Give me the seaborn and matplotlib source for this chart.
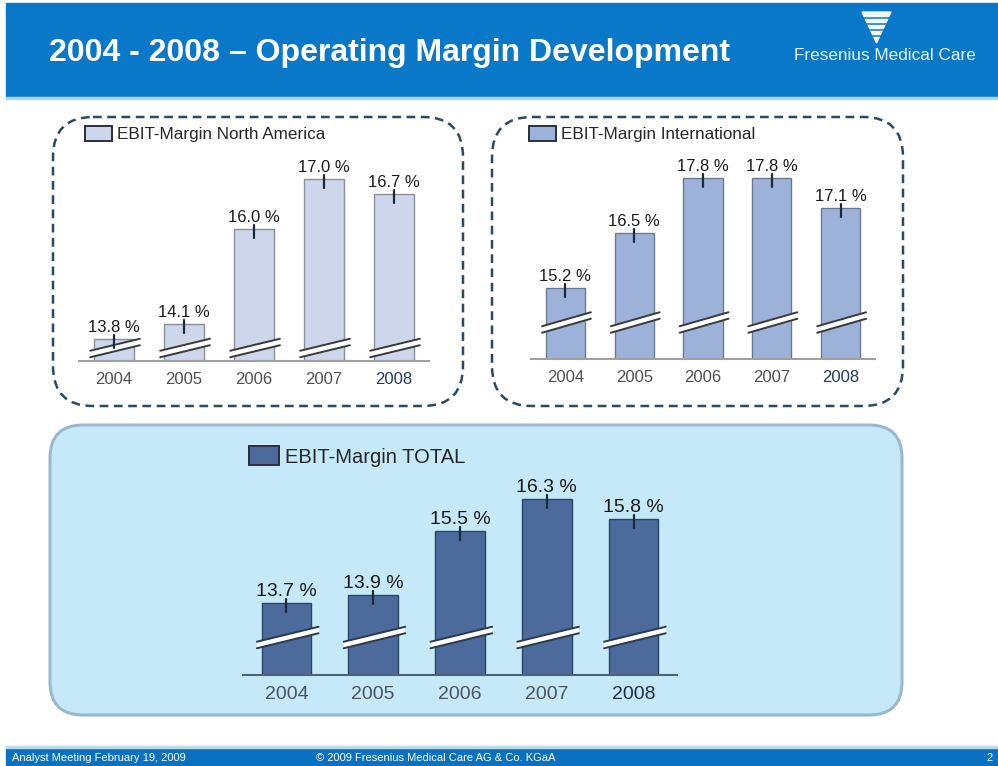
import numpy as np
import pandas as pd
import matplotlib.pyplot as plt
import seaborn as sns
from matplotlib.patches import FancyBboxPatch, Rectangle, Polygon, Patch

# data
years = ["2004", "2005", "2006", "2007", "2008"]
na_margin = [13.8, 14.1, 16.0, 17.0, 16.7]
intl_margin = [15.2, 16.5, 17.8, 17.8, 17.1]
total_margin = [13.7, 13.9, 15.5, 16.3, 15.8]

W, H = 998, 766

sns.set_theme(style="white")
plt.rcParams["font.family"] = ["Liberation Sans", "DejaVu Sans"]

fig = plt.figure(figsize=(W / 100, H / 100), dpi=100)
fig.patch.set_facecolor("white")

# background axes in pixel units for the slide decoration
bg = fig.add_axes([0, 0, 1, 1])
bg.set_xlim(0, W)
bg.set_ylim(H, 0)
bg.axis("off")

# header
bg.add_patch(Rectangle((6, 3), W - 6, 95, color="#0a78c8", zorder=1))
bg.add_patch(Rectangle((6, 97), W - 6, 2, color="#a9d6ee", zorder=1))
bg.text(49, 53, "2004 - 2008 \u2013 Operating Margin Development", color="white",
        fontsize=23, fontweight="bold", va="center", ha="left", zorder=3)
bg.add_patch(Polygon([(862, 12), (891, 12), (876.5, 43)], closed=True,
                     color="#f2f6f8", zorder=2))
for yy in [18, 24, 30, 36]:
    bg.plot([855, 898], [yy, yy], color="#0a78c8", lw=1.1, zorder=3)
bg.text(885, 56, "Fresenius Medical Care", color="#e4f5fb", fontsize=12.3,
        ha="center", va="center", zorder=3)

# footer
bg.add_patch(Rectangle((6, 748), W - 6, 18, color="#0a70c0", zorder=1))
bg.add_patch(Rectangle((6, 746), W - 6, 2, color="#b9dcef", zorder=1))
bg.text(12, 758, "Analyst Meeting February 19, 2009", color="white", fontsize=8, va="center")
bg.text(316, 758, "\u00a9 2009 Fresenius Medical Care AG & Co. KGaA", color="white", fontsize=8, va="center")
bg.text(993, 758, "2", color="white", fontsize=8, va="center", ha="right")

# panel frames
for x0, x1 in [(53, 463), (492, 903)]:
    bg.add_patch(FancyBboxPatch((x0, 117), x1 - x0, 289,
                                boxstyle="round,pad=0,rounding_size=40",
                                fill=False, ec="#2b4a60", lw=1.8,
                                ls=(0, (3.5, 2.2)), zorder=1))
bg.add_patch(FancyBboxPatch((50, 425), 852, 290,
                            boxstyle="round,pad=0,rounding_size=33",
                            fc="#c5e9f9", ec="#9ab8cc", lw=2.2, zorder=1))


def px_axes(left, top, right, bottom):
    return fig.add_axes([left / W, 1 - bottom / H, (right - left) / W, (bottom - top) / H])


panels = [
    dict(vals=na_margin, box=(79, 150, 429, 361), ylim=(13.36, 17.58),
         fc="#cdd6ea", ec="#8a8f99", base="#a0a0a0", label="EBIT-Margin North America",
         fs=12, lfs=12.3, leg=(85, 134), hl=(1.6, 1.05), hb=13, rise=12,
         tick="#505050", last="#1f3a5a", brk="#3a3a3a"),
    dict(vals=intl_margin, box=(531, 150, 875, 359), ylim=(13.52, 18.46),
         fc="#9cb2d8", ec="#6a7a90", base="#a0a0a0", label="EBIT-Margin International",
         fs=12, lfs=12.3, leg=(529, 134), hl=(1.6, 1.05), hb=36.5, rise=14,
         tick="#505050", last="#1f3a5a", brk="#3a3a3a"),
    dict(vals=total_margin, box=(243, 470, 677, 675), ylim=(11.9, 17.025),
         fc="#4d6a9c", ec="#2d4564", base="#4d6275", label="EBIT-Margin TOTAL",
         fs=14, lfs=14.5, leg=(249, 456.5), hl=(1.5, 1.05), hb=37.5, rise=15,
         tick="#4a5560", last="#1f2f45", brk="#2a3a4a"),
]

for p in panels:
    left, top, right, bottom = p["box"]
    ax = px_axes(left, top, right, bottom)
    ax.patch.set_alpha(0)
    df = pd.DataFrame({"Year": years, "Margin": p["vals"]})
    sns.barplot(data=df, x="Year", y="Margin", color=p["fc"], saturation=1,
                edgecolor=p["ec"], linewidth=1, width=0.57, errorbar=None, ax=ax)
    ylo, yhi = p["ylim"]
    ax.set_ylim(ylo, yhi)
    ax.set_xlim(-0.5, 4.5)
    ppu = (bottom - top) / (yhi - ylo)

    # broken-axis marks
    t = 6.5
    for i in range(len(years)):
        xl, xr = i - 0.34, i + 0.37
        lo_l = ylo + (p["hb"] - p["rise"] / 2 - t / 2) / ppu
        lo_r = ylo + (p["hb"] + p["rise"] / 2 - t / 2) / ppu
        dt = t / ppu
        ax.add_patch(Polygon([(xl, lo_l), (xr, lo_r), (xr, lo_r + dt), (xl, lo_l + dt)],
                             closed=True, fc="white", ec="none", zorder=4, clip_on=False))
        ax.plot([xl, xr], [lo_l, lo_r], color=p["brk"], lw=1.4, zorder=5, clip_on=False)
        ax.plot([xl, xr], [lo_l + dt, lo_r + dt], color=p["brk"], lw=1.4, zorder=5, clip_on=False)

    # value ticks and labels
    for i, v in enumerate(p["vals"]):
        ax.plot([i, i], [v + 4 / ppu, v - 9 / ppu], color="#1a2a3a", lw=1.6,
                zorder=6, clip_on=False)
        ax.annotate(f"{v:.1f} %", (i, v), xytext=(0, 5), textcoords="offset points",
                    ha="center", va="baseline", fontsize=p["fs"], color="#1a1a1a",
                    annotation_clip=False)

    sns.despine(ax=ax, left=True, top=True, right=True)
    ax.spines["bottom"].set_color(p["base"])
    ax.spines["bottom"].set_linewidth(1.5)
    ax.set_yticks([])
    ax.set_xlabel("")
    ax.set_ylabel("")
    ax.tick_params(axis="x", length=0, pad=8, labelsize=p["fs"], labelcolor=p["tick"])
    ax.get_xticklabels()[-1].set_color(p["last"])

    handle = Patch(fc=p["fc"], ec="#2a2f3a", lw=1.4)
    ax.legend(handles=[handle], labels=[p["label"]], loc="center left",
              bbox_to_anchor=(p["leg"][0] / W, 1 - p["leg"][1] / H),
              bbox_transform=fig.transFigure, frameon=False, borderpad=0,
              borderaxespad=0, handlelength=p["hl"][0], handleheight=p["hl"][1],
              handletextpad=0.3, fontsize=p["lfs"])

fig.savefig("out.png", dpi=100)
